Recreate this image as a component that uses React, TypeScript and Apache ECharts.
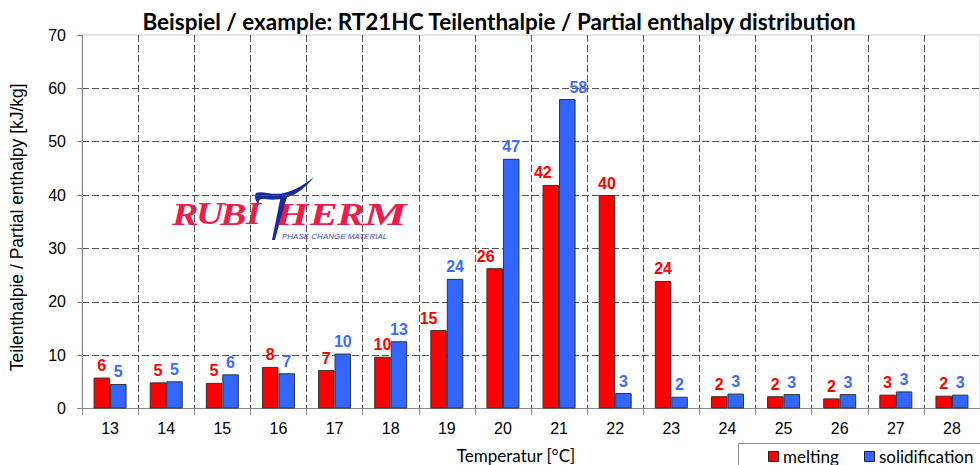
import React, { useEffect, useRef } from "react";
import * as echarts from "echarts";

const categories = ["13", "14", "15", "16", "17", "18", "19", "20", "21", "22", "23", "24", "25", "26", "27", "28"];
const melting = [5.8, 4.9, 4.8, 7.8, 7.2, 9.7, 14.7, 26.3, 41.9, 40.0, 23.9, 2.3, 2.3, 1.9, 2.6, 2.4];
const solidification = [4.6, 5.1, 6.4, 6.6, 10.3, 12.6, 24.3, 46.8, 58.0, 2.9, 2.2, 2.8, 2.7, 2.7, 3.2, 2.6];
const yTicks = [0, 10, 20, 30, 40, 50, 60, 70];
const titleText = "Beispiel / example: RT21HC Teilenthalpie / Partial enthalpy distribution";
const yName = "Teilenthalpie / Partial enthalpy [kJ/kg]";
const xName = "Temperatur [°C]";
const seriesNames = ["melting", "solidification"];
const seriesColors = ["#ff0000", "#3366ff"];
const logoLetters = ["R", "U", "B", "I", "H", "E", "R", "M"];
const logoSub = "PHASE CHANGE MATERIAL";

const T_PATH =
  "M 256 193 C 262 190 272 196 284 193 C 296 190 305 184 314 177 C 307 186 297 195 285 198 C 274 201 266 199 262 199 C 259 199 258 202 259 205 C 255 201 254 196 256 193 Z " +
  "M 281 195 L 288 194 C 283 210 279 225 275 240 L 272 240 C 275 225 278 210 281 195 Z";

let registered = false;
function ensureShape() {
  if (registered) return;
  echarts.graphic.registerShape("rubiT", echarts.graphic.extendPath(T_PATH, {}) as any);
  registered = true;
}

export default function App() {
  const ref = useRef<HTMLDivElement>(null);
  useEffect(() => {
    if (!ref.current) return;
    ensureShape();
    const chart = echarts.init(ref.current, undefined, { renderer: "svg" });
    const meltOffsets: Record<number, number[]> = { 6: [-10, 0], 7: [-9, 0], 8: [-8, 0] };
    const solOffsets: Record<number, number[]> = { 8: [11, 0] };
    const letterX = [172, 196, 220, 246, 276, 310, 337, 364];
    const letterScale = [1.25, 1.2, 1.25, 1.2, 1.3, 1.3, 1.3, 1.5];
    const legendItems = [
      { sx: 768, tx: 783 },
      { sx: 864, tx: 879 },
    ];
    const labelBase = {
      show: true,
      position: "top",
      distance: 4,
      fontFamily: "Liberation Sans, Arial, sans-serif",
      fontWeight: "bold",
      fontSize: 16,
      formatter: (p: any) => String(Math.round(p.value)),
    };
    const option: any = {
      animation: false,
      backgroundColor: "#ffffff",
      title: {
        text: titleText,
        left: 494,
        top: 5,
        textAlign: "center",
        textStyle: { fontFamily: "Lato, sans-serif", fontWeight: "bold", fontSize: 22.5, color: "#000" },
      },
      grid: {
        left: 80,
        right: -14,
        top: 35,
        bottom: 56.5,
        show: true,
        borderColor: "#c8c8c8",
        borderWidth: 1,
        containLabel: false,
      },
      xAxis: {
        type: "category",
        data: categories,
        boundaryGap: true,
        axisLine: { show: true, lineStyle: { color: "#888", width: 1 } },
        axisTick: { show: true, length: 6, alignWithLabel: false, lineStyle: { color: "#888" } },
        axisLabel: { margin: 12, fontFamily: "Liberation Sans, Arial, sans-serif", fontSize: 16, color: "#000" },
        splitLine: { show: true, lineStyle: { color: "#555", type: [7, 3], width: 1 } },
      },
      yAxis: {
        type: "value",
        min: yTicks[0],
        max: yTicks[yTicks.length - 1],
        interval: 10,
        name: yName,
        nameLocation: "middle",
        nameGap: 56,
        nameTextStyle: {
          fontFamily: "Liberation Sans, Arial, sans-serif",
          fontSize: 17.5,
          color: "#000",
          padding: [0, 11, 0, 0],
        },
        axisLine: { show: true, lineStyle: { color: "#888", width: 1 } },
        axisTick: { show: true, length: 5, lineStyle: { color: "#888" } },
        axisLabel: { margin: 16, fontFamily: "Liberation Sans, Arial, sans-serif", fontSize: 16, color: "#000" },
        splitLine: { show: true, showMaxLine: false, lineStyle: { color: "#555", type: [7, 3], width: 1 } },
      },
      series: [
        {
          name: seriesNames[0],
          type: "bar",
          barWidth: 16.5,
          barGap: "0%",
          itemStyle: { color: seriesColors[0], borderColor: "#333", borderWidth: 1 },
          label: { ...labelBase, color: "#ff0000" },
          data: melting.map((v, i) => (meltOffsets[i] ? { value: v, label: { offset: meltOffsets[i] } } : v)),
        },
        {
          name: seriesNames[1],
          type: "bar",
          barWidth: 16.5,
          barGap: "0%",
          itemStyle: { color: seriesColors[1], borderColor: "#333", borderWidth: 1 },
          label: { ...labelBase, color: "#3d6bff" },
          data: solidification.map((v, i) => (solOffsets[i] ? { value: v, label: { offset: solOffsets[i] } } : v)),
        },
      ],
      graphic: [
        {
          type: "text",
          x: 516,
          y: 455,
          style: {
            text: xName,
            fontFamily: "Lato, sans-serif",
            fontSize: 17,
            fill: "#000",
            align: "center",
            verticalAlign: "middle",
          },
        },
        {
          type: "rect",
          shape: { x: 738.5, y: 443.5, width: 260, height: 40 },
          style: { fill: "#fff", stroke: "#8c8c8c", lineWidth: 1 },
        },
        ...legendItems.flatMap((it, i) => [
          {
            type: "rect",
            shape: { x: it.sx + 0.5, y: 451.5, width: 10, height: 10 },
            style: { fill: seriesColors[i], stroke: "#222", lineWidth: 1 },
          },
          {
            type: "text",
            x: it.tx,
            y: 456,
            style: {
              text: seriesNames[i],
              fontFamily: "Lato, sans-serif",
              fontSize: 17,
              fill: "#000",
              align: "left",
              verticalAlign: "middle",
            },
          },
        ]),
        ...logoLetters.map((ch, i) => ({
          type: "text",
          x: letterX[i],
          y: 230,
          scaleX: letterScale[i],
          style: {
            text: ch,
            fontFamily: "Liberation Serif, serif",
            fontStyle: "italic",
            fontWeight: "bold",
            fontSize: 32,
            fill: "#ee1c4a",
            align: "left",
            verticalAlign: "bottom",
          },
        })),
        {
          type: "rubiT",
          x: 0,
          y: 0,
          style: { fill: "#1b2b9c" },
        },
        {
          type: "text",
          x: 282,
          y: 236,
          style: {
            text: logoSub,
            fontFamily: "Liberation Sans, Arial, sans-serif",
            fontStyle: "italic",
            fontSize: 8,
            fill: "#3a4fb0",
            align: "left",
            verticalAlign: "middle",
          },
        },
      ],
    };
    chart.setOption(option);
    return () => chart.dispose();
  }, []);
  return <div ref={ref} style={{ position: "fixed", left: 0, top: 0, width: 980, height: 465 }} />;
}
